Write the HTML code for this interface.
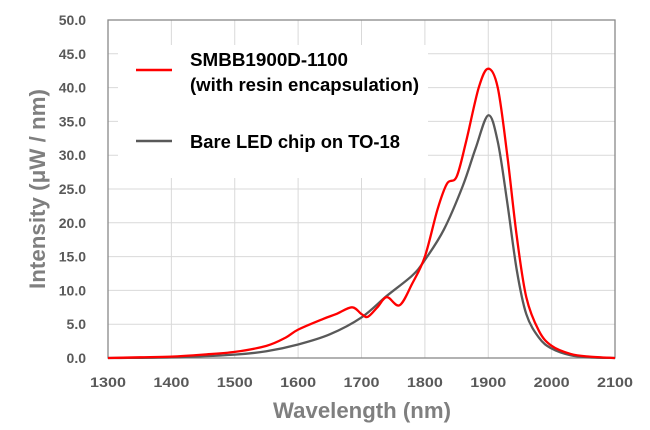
<!DOCTYPE html>
<html><head><meta charset="utf-8"><style>
html,body{margin:0;padding:0;background:#fff;width:650px;height:430px;overflow:hidden}
svg{display:block;font-family:"Liberation Sans",sans-serif}
</style></head><body>
<svg id="s" width="650" height="430" viewBox="0 0 650 430">
<g id="grid" stroke="#d9d9d9" stroke-width="1"></g>
<rect x="118" y="45" width="310" height="133" fill="#fff"/>
<rect x="108" y="20" width="507" height="338" fill="none" stroke="#898989" stroke-width="1.3"/>
<g id="lab" fill="#595959" font-weight="bold" font-size="14"></g>
<text x="45" y="189" transform="rotate(-90 45 189)" text-anchor="middle" fill="#7f7f7f" font-weight="bold" font-size="22" textLength="200" lengthAdjust="spacingAndGlyphs">Intensity (μW / nm)</text>
<text x="362" y="418" text-anchor="middle" fill="#7f7f7f" font-weight="bold" font-size="22" textLength="178" lengthAdjust="spacingAndGlyphs">Wavelength (nm)</text>
<line x1="136" y1="70" x2="172" y2="70" stroke="#ff0000" stroke-width="2.5"/>
<line x1="136" y1="141" x2="172" y2="141" stroke="#595959" stroke-width="2.5"/>
<g font-weight="bold" font-size="18" fill="#000">
<text x="190" y="66" textLength="158" lengthAdjust="spacingAndGlyphs">SMBB1900D-1100</text>
<text x="190" y="91" textLength="229" lengthAdjust="spacingAndGlyphs">(with resin encapsulation)</text>
<text x="190" y="148" textLength="210" lengthAdjust="spacingAndGlyphs">Bare  LED chip on TO-18</text>
</g>
<path id="g" fill="none" stroke="#595959" stroke-width="2.3"/>
<path id="r" fill="none" stroke="#ff0000" stroke-width="2.3"/>
</svg>
<script>
var X=function(n){return 108+(n-1300)*507/800},Y=function(v){return 358-v*338/50};
var g=document.getElementById('grid'),l=document.getElementById('lab'),h='',t='';
for(var i=1;i<10;i++){h+='<line x1="108" x2="615" y1="'+Y(i*5)+'" y2="'+Y(i*5)+'"/>';}
for(var n=1400;n<2100;n+=100){h+='<line y1="20" y2="358" x1="'+X(n)+'" x2="'+X(n)+'"/>';}
for(var i=0;i<=10;i++){t+='<text x="86" y="'+(Y(i*5)+5)+'" text-anchor="end">'+(i*5).toFixed(1)+'</text>';}
for(var n=1300;n<=2100;n+=100){t+='<text x="'+X(n)+'" y="387" text-anchor="middle" textLength="36" lengthAdjust="spacingAndGlyphs">'+n+'</text>';}
g.innerHTML=h;l.innerHTML=t;
function path(d){var p=d.map(function(a){return[X(a[0]),Y(a[1])]});var s='M'+p[0][0]+','+p[0][1];
for(var i=0;i<p.length-1;i++){var p0=p[i-1]||p[i],p1=p[i],p2=p[i+1],p3=p[i+2]||p2;
s+='C'+(p1[0]+(p2[0]-p0[0])/6)+','+(p1[1]+(p2[1]-p0[1])/6)+' '+(p2[0]-(p3[0]-p1[0])/6)+','+(p2[1]-(p3[1]-p1[1])/6)+' '+p2[0]+','+p2[1];}return s;}
var R=[[1300,0],[1350,0.1],[1400,0.2],[1450,0.5],[1500,0.9],[1550,1.8],[1580,3],[1600,4.2],[1640,5.8],[1660,6.5],[1685,7.5],[1700,6.5],[1710,6.1],[1725,7.5],[1740,9],[1760,7.8],[1780,11],[1800,15],[1820,22],[1835,25.8],[1850,26.8],[1865,32],[1885,40],[1900,42.8],[1915,40],[1930,30],[1945,18],[1960,9],[1980,4],[2000,1.8],[2030,0.6],[2060,0.2],[2100,0]];
var G=[[1300,0],[1400,0.1],[1500,0.5],[1550,1.0],[1600,2.0],[1650,3.5],[1700,6],[1740,9.2],[1780,12.2],[1800,14.5],[1830,19],[1860,25.5],[1880,31],[1900,35.9],[1915,32],[1930,23],[1945,13],[1960,6.5],[1980,3],[2000,1.4],[2030,0.4],[2060,0.1],[2100,0]];
document.getElementById('r').setAttribute('d',path(R));
document.getElementById('g').setAttribute('d',path(G));
</script>
</body></html>
